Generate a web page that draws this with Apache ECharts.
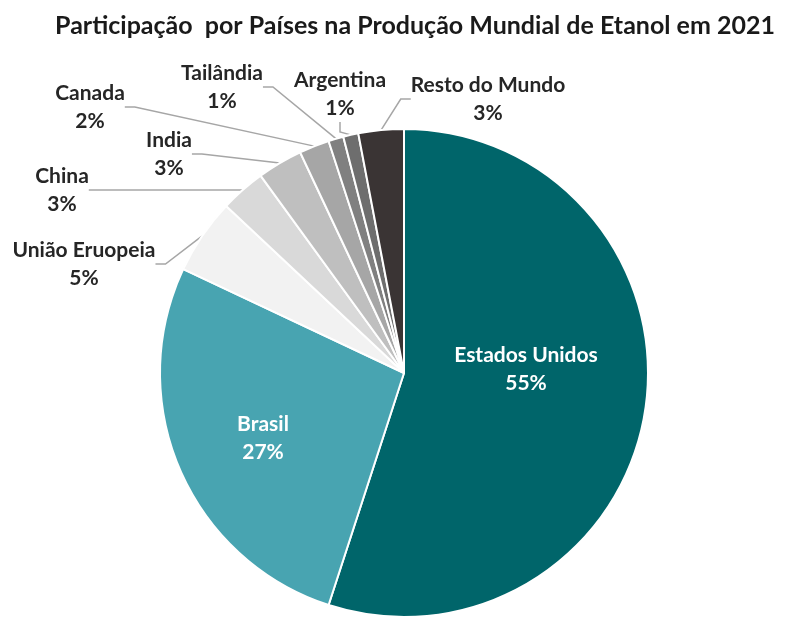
<!DOCTYPE html>
<html>
<head>
<meta charset="utf-8">
<script src="https://cdn.jsdelivr.net/npm/echarts@6/dist/echarts.min.js"></script>
<style>
  html, body { margin: 0; padding: 0; background: #ffffff; }
  #chart { width: 785px; height: 623px; }
</style>
</head>
<body>
<div id="chart"></div>
<script>
// Ethanol production share by country, 2021 (%)
const countries = ['Estados Unidos', 'Brasil', 'União Eruopeia', 'China', 'India', 'Canada', 'Tailândia', 'Argentina', 'Resto do Mundo'];
const shares = [55, 27, 5, 3, 3, 2, 1, 1, 3];
const sliceColors = ['#00656a', '#48a4b1', '#f2f2f2', '#d9d9d9', '#bfbfbf', '#a6a6a6', '#808080', '#6e6e6e', '#3a3434'];

// Label anchor points (label centre) for each slice, in pixels
const labelSpots = [
  [526, 369], [263, 438], [84, 264], [62, 190], [169, 154],
  [90, 107], [222, 87], [340, 94], [488, 99]
];
const insideSlices = [0, 1];

const chart = echarts.init(document.getElementById('chart'));

const fontFamily = 'Lato, "Noto Sans", sans-serif';

chart.setOption({
  animation: false,
  backgroundColor: '#ffffff',
  title: {
    text: 'Participação  por Países na Produção Mundial de Etanol em 2021',
    left: 410,
    top: 8,
    textAlign: 'center',
    textStyle: { fontFamily, fontSize: 25, fontWeight: 'bold', color: '#1a1a1a' }
  },
  series: [{
    type: 'pie',
    center: [404, 373],
    radius: 244,
    startAngle: 90,
    clockwise: true,
    avoidLabelOverlap: false,
    itemStyle: { borderColor: '#ffffff', borderWidth: 2 },
    label: {
      show: true,
      position: 'outside',
      formatter: '{b}\n{c}%',
      fontFamily,
      fontSize: 21,
      fontWeight: 'bold',
      lineHeight: 28,
      color: '#262626',
      align: 'center'
    },
    labelLine: {
      show: true,
      length: 10,
      length2: 10,
      lineStyle: { color: '#a6a6a6', width: 1.5 }
    },
    labelLayout: function (params) {
      const p = labelSpots[params.dataIndex];
      return { x: p[0], y: p[1], align: 'center', verticalAlign: 'middle' };
    },
    data: countries.map(function (name, i) {
      const item = { name: name, value: shares[i], itemStyle: { color: sliceColors[i] } };
      if (insideSlices.indexOf(i) >= 0) {
        item.label = { position: 'inside', color: '#ffffff' };
        item.labelLine = { show: false };
      }
      return item;
    })
  }]
});
</script>
</body>
</html>
